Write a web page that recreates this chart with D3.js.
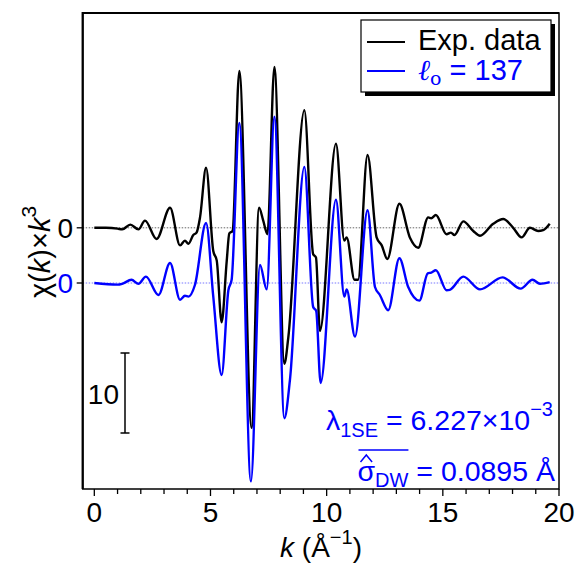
<!DOCTYPE html>
<html>
<head>
<meta charset="utf-8">
<script src="https://cdn.jsdelivr.net/npm/d3@7"></script>
<style>
  body { margin: 0; background: #fff; }
  text { font-family: Arial, "Liberation Sans", sans-serif; }
</style>
</head>
<body>
<svg id="chart" width="575" height="565"></svg>
<script>
// k values (1/Å) and chi(k)*k^3 for the experimental data
var expK = [0, 0.5, 1.0, 1.2, 1.55, 1.9, 2.18, 2.68, 3.26, 3.69, 3.9, 4.05, 4.26, 4.4, 4.55, 4.81, 5.12, 5.27, 5.48, 5.7, 5.81, 5.95, 6.24, 6.77, 7.09, 7.27, 7.45, 7.75, 8.18, 8.35, 9.04, 9.42, 9.54, 9.71, 10.4, 10.76, 10.86, 11.2, 11.35, 11.76, 12.15, 12.37, 12.61, 13.13, 13.58, 13.94, 14.37, 14.5, 14.7, 15.16, 15.35, 15.5, 15.88, 16.31, 16.6, 17.17, 17.6, 18.03, 18.39, 18.75, 19.1, 19.32, 19.6];
var expChi = [0, 0, -0.1, -0.2, 0.4, -0.2, 0.9, -1.4, 2.5, -2.2, -1.6, -2.0, -0.9, -0.6, 1.3, 7.5, -2.9, -4.1, -11.8, -4.1, -0.7, -0.4, 19.6, -25.0, 2.5, 0.9, -0.8, 20.1, -17.0, -13.7, 14.7, -3.3, -3.7, -12.9, 10.5, -1.6, -1.2, -6.5, -6.5, 9.1, -1.2, -2.2, -3.9, 3.0, -1.2, -2.5, 1.3, 1.2, 1.6, -0.8, -0.6, -0.9, 0.8, -0.4, -1.0, 0.5, 1.1, 0, -1.2, 0, -0.4, -0.3, 0.5];

// fit with l_o = 137
var fitK = [0, 1.0, 1.2, 1.6, 1.9, 2.22, 2.76, 3.26, 3.69, 3.9, 4.05, 4.33, 4.81, 5.12, 5.48, 5.77, 5.91, 6.24, 6.74, 7.13, 7.42, 7.75, 8.18, 8.42, 9.04, 9.42, 9.55, 9.74, 10.4, 10.76, 10.86, 11.22, 11.76, 12.08, 12.29, 12.65, 13.13, 13.51, 13.99, 14.35, 14.5, 14.7, 15.16, 15.3, 15.88, 16.6, 17.57, 18.35, 18.86, 19.18, 19.6];
var fitChi = [0, -0.2, -0.1, 0.4, -0.1, 0.8, -1.5, 2.5, -2.1, -1.6, -1.7, -0.25, 7.5, -1.7, -11.5, -0.9, 0.4, 20.0, -24.8, 2.25, -0.8, 20.8, -16.9, -12.1, 14.5, -3.0, -3.5, -12.5, 10.4, -1.7, -0.8, -6.7, 9.1, -0.5, -1.5, -3.4, 3.1, -0.5, -2.2, 1.2, 1.3, 1.6, -0.9, -0.85, 0.8, -0.8, 0.7, -0.7, 0.4, -0.1, 0.1];

var expOffset = 6.9;
var xTicks = [0, 5, 10, 15, 20];
var xMinorTicks = d3.range(0, 21, 1);
var scaleBar = [-18.75, -8.75];

function drawChart() {
    var svg = d3.select("#chart");
    var mLeft = 82.7, mRight = 559, mTop = 13, mBottom = 489;

    var x = d3.scaleLinear().domain([-0.5, 20]).range([mLeft, mRight]);
    var y = d3.scaleLinear().domain([-25.75, 33.75]).range([mBottom, mTop]);

    svg.append("defs").append("clipPath")
        .attr("id", "clip")
        .append("rect")
        .attr("x", mLeft).attr("y", mTop)
        .attr("width", mRight - mLeft).attr("height", mBottom - mTop);

    // dotted zero lines
    svg.append("line")
        .attr("x1", mLeft).attr("x2", mRight)
        .attr("y1", y(expOffset)).attr("y2", y(expOffset))
        .style("stroke", "#666").style("stroke-width", 1).style("stroke-dasharray", "1.5,1.5");
    svg.append("line")
        .attr("x1", mLeft).attr("x2", mRight)
        .attr("y1", y(0)).attr("y2", y(0))
        .style("stroke", "#7777ff").style("stroke-width", 1).style("stroke-dasharray", "1.5,1.5");

    var line = d3.line()
        .x((d) => x(d[0]))
        .y((d) => y(d[1]))
        .curve(d3.curveMonotoneX);

    var g = svg.append("g").attr("clip-path", "url(#clip)");

    g.append("path")
        .datum(expK.map((k, i) => [k, expChi[i] + expOffset]))
        .attr("d", line)
        .style("fill", "none").style("stroke", "#000").style("stroke-width", 2.4);

    g.append("path")
        .datum(fitK.map((k, i) => [k, fitChi[i]]))
        .attr("d", line)
        .style("fill", "none").style("stroke", "#0000ff").style("stroke-width", 2.4);

    // frame
    svg.append("rect")
        .attr("x", mLeft).attr("y", mTop)
        .attr("width", mRight - mLeft).attr("height", mBottom - mTop)
        .style("fill", "none").style("stroke", "#000").style("stroke-width", 1.5);
    svg.append("path")
        .attr("d", "M" + mLeft + "," + mBottom + "V" + mTop + "H" + mRight)
        .style("fill", "none").style("stroke", "#000").style("stroke-width", 2.2);

    // x axis ticks
    svg.selectAll(".minor")
        .data(xMinorTicks)
        .enter()
        .append("line")
        .attr("x1", (d) => x(d)).attr("x2", (d) => x(d))
        .attr("y1", mBottom).attr("y2", (d) => d % 5 === 0 ? mBottom + 7 : mBottom + 5)
        .style("stroke", "#000").style("stroke-width", 1.3);

    svg.selectAll(".xlab")
        .data(xTicks)
        .enter()
        .append("text")
        .attr("x", (d) => x(d))
        .attr("y", 522)
        .attr("text-anchor", "middle")
        .style("font-size", "28px")
        .text((d) => d);

    var xl = svg.append("text")
        .attr("x", 321).attr("y", 557)
        .attr("text-anchor", "middle")
        .style("font-size", "28px");
    xl.append("tspan").style("font-style", "italic").text("k");
    xl.append("tspan").text(" (Å");
    xl.append("tspan").attr("dy", -13).style("font-size", "20px").text("−1");
    xl.append("tspan").attr("dy", 13).text(")");

    // y ticks: one zero for each curve
    [[expOffset, "#000"], [0, "#0000ff"]].forEach((t) => {
        svg.append("line")
            .attr("x1", mLeft - 6).attr("x2", mLeft)
            .attr("y1", y(t[0])).attr("y2", y(t[0]))
            .style("stroke", "#000").style("stroke-width", 1.3);
        svg.append("text")
            .attr("x", 73).attr("y", y(t[0]) + 10)
            .attr("text-anchor", "end")
            .style("font-size", "28px")
            .style("fill", t[1])
            .text("0");
    });

    var yl = svg.append("text")
        .attr("transform", "translate(50,252) rotate(-90)")
        .attr("text-anchor", "middle")
        .style("font-size", "29px");
    yl.append("tspan").text("χ(");
    yl.append("tspan").style("font-style", "italic").text("k");
    yl.append("tspan").text(")×");
    yl.append("tspan").style("font-style", "italic").text("k");
    yl.append("tspan").attr("dy", -14).style("font-size", "21px").text("3");

    // scale bar
    var sbx = 125;
    svg.append("line")
        .attr("x1", sbx).attr("x2", sbx)
        .attr("y1", y(scaleBar[0])).attr("y2", y(scaleBar[1]))
        .style("stroke", "#000").style("stroke-width", 1.5);
    scaleBar.forEach((v) => {
        svg.append("line")
            .attr("x1", sbx - 4.5).attr("x2", sbx + 4.5)
            .attr("y1", y(v)).attr("y2", y(v))
            .style("stroke", "#000").style("stroke-width", 1.5);
    });
    svg.append("text")
        .attr("x", 119).attr("y", y((scaleBar[0] + scaleBar[1]) / 2) + 11)
        .attr("text-anchor", "end")
        .style("font-size", "28px")
        .text("10");

    // legend
    svg.append("rect")
        .attr("x", 365).attr("y", 24).attr("width", 190).attr("height", 72)
        .style("fill", "#000");
    svg.append("rect")
        .attr("x", 361).attr("y", 20).attr("width", 190).attr("height", 72)
        .style("fill", "#fff").style("stroke", "#000").style("stroke-width", 1.2);
    svg.append("line")
        .attr("x1", 367).attr("x2", 405).attr("y1", 42).attr("y2", 42)
        .style("stroke", "#000").style("stroke-width", 2);
    svg.append("line")
        .attr("x1", 367).attr("x2", 405).attr("y1", 71).attr("y2", 71)
        .style("stroke", "#0000ff").style("stroke-width", 2);
    svg.append("text")
        .attr("x", 418).attr("y", 50)
        .style("font-size", "29px")
        .text("Exp. data");
    var lg = svg.append("text")
        .attr("x", 418).attr("y", 80)
        .style("font-size", "29px")
        .style("fill", "#0000ff");
    lg.append("tspan").style("font-family", "'DejaVu Serif', serif").style("font-style", "italic").text("ℓ");
    lg.append("tspan").attr("dy", 5).style("font-family", "'DejaVu Serif', serif").style("font-size", "19px").text("o");
    lg.append("tspan").attr("dy", -5).text(" = 137");

    // fit parameters
    var a1 = svg.append("text")
        .attr("x", 553).attr("y", 430)
        .attr("text-anchor", "end")
        .style("font-size", "28.5px")
        .style("fill", "#0000ff");
    a1.append("tspan").text("λ");
    a1.append("tspan").attr("dy", 7).style("font-size", "20px").text("1SE");
    a1.append("tspan").attr("dy", -7).text(" = 6.227×10");
    a1.append("tspan").attr("dy", -14).style("font-size", "20px").text("−3");

    var a2 = svg.append("text")
        .attr("x", 555).attr("y", 481)
        .attr("text-anchor", "end")
        .style("font-size", "28.5px")
        .style("fill", "#0000ff");
    a2.append("tspan").text("σ");
    a2.append("tspan").attr("dy", 6).style("font-size", "20px").text("DW");
    a2.append("tspan").attr("dy", -6).text(" = 0.0895 Å");

    var n = a2.node();
    var s0 = n.getStartPositionOfChar(0).x;
    var s1 = n.getEndPositionOfChar(0).x;
    var s2 = n.getEndPositionOfChar(2).x;
    svg.append("line")
        .attr("x1", s0 + 1).attr("x2", s2)
        .attr("y1", 450).attr("y2", 450)
        .style("stroke", "#0000ff").style("stroke-width", 1.5);
    svg.append("path")
        .attr("d", "M" + (s0 + 3) + ",462L" + ((s0 + s1) / 2) + ",455L" + (s1 - 3) + ",462")
        .style("fill", "none").style("stroke", "#0000ff").style("stroke-width", 1.5);
}

drawChart();
</script>
</body>
</html>
